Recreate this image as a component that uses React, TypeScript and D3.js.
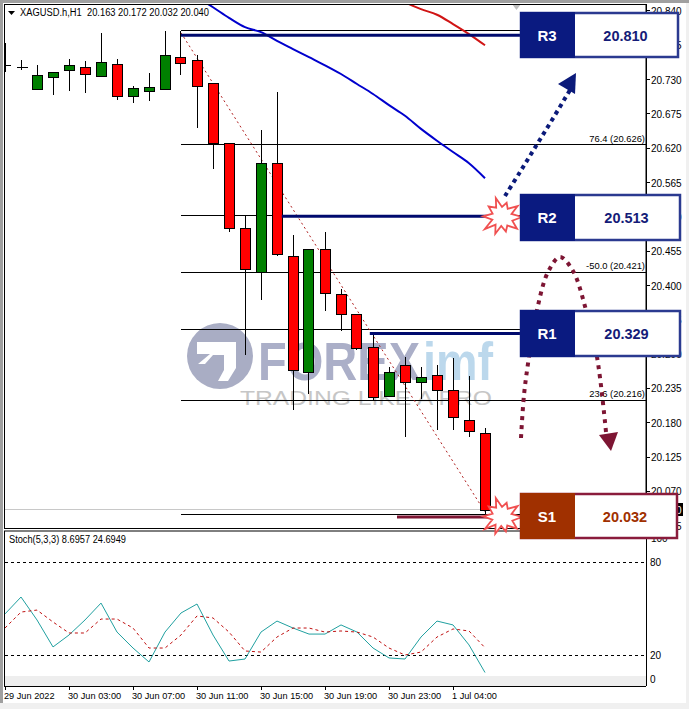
import React from "react";
import * as d3 from "d3";

const opens = [20.753,20.750,20.714,20.733,20.744,20.749,20.736,20.755,20.702,20.712,20.715,20.765,20.761,20.723,20.628,20.491,20.422,20.596,20.447,20.261,20.457,20.386,20.354,20.301,20.221,20.271,20.244,20.255,20.231,20.183,20.163];
const highs = [20.789,20.761,20.753,20.742,20.763,20.760,20.805,20.763,20.720,20.741,20.808,20.808,20.769,20.723,20.628,20.513,20.649,20.710,20.481,20.458,20.486,20.394,20.354,20.321,20.269,20.285,20.269,20.273,20.284,20.255,20.172];
const lows = [20.742,20.745,20.714,20.705,20.712,20.709,20.736,20.697,20.693,20.696,20.715,20.737,20.653,20.587,20.486,20.289,20.377,20.447,20.201,20.226,20.359,20.327,20.297,20.217,20.221,20.157,20.218,20.168,20.168,20.157,20.032];
const closes = [20.753,20.750,20.737,20.741,20.752,20.737,20.758,20.704,20.715,20.718,20.769,20.755,20.720,20.627,20.491,20.425,20.596,20.450,20.265,20.458,20.386,20.354,20.300,20.221,20.260,20.244,20.252,20.231,20.188,20.165,20.040];

const maBlueStart = 12;
const maBlue = [20.862,20.846,20.829,20.814,20.806,20.792,20.779,20.766,20.753,20.739,20.723,20.707,20.689,20.672,20.651,20.632,20.614,20.596,20.572];
const maRedStart = 24;
const maRed = [20.869,20.854,20.843,20.834,20.819,20.803,20.785];

const stochMain = [46.5,57.4,42.6,25.2,32.9,42.6,53.5,34.8,24.5,15.5,34.8,47.1,52.9,32.9,16.1,17.4,34.8,41.9,37.4,33.5,33.5,39.4,34.8,24.5,18.1,17.4,31.6,41.9,39.4,26.5,8.7];
const stochSignal = [37.4,47.7,49,41.3,34.2,34.2,43.2,43.2,37.4,24.5,24.5,32.9,45.2,43.9,34.8,22.6,21.9,31.6,37.4,37.4,34.8,35.5,34.8,31.6,24.5,20,21.9,31.6,36.8,35.5,24.7];

const priceTicks = [20.84,20.785,20.73,20.675,20.62,20.565,20.51,20.455,20.4,20.345,20.29,20.235,20.18,20.125,20.07,20.015];
const timeTicks = [
  { i: 0, label: "29 Jun 2022" }, { i: 4, label: "30 Jun 03:00" }, { i: 8, label: "30 Jun 07:00" },
  { i: 12, label: "30 Jun 11:00" }, { i: 16, label: "30 Jun 15:00" }, { i: 20, label: "30 Jun 19:00" },
  { i: 24, label: "30 Jun 23:00" }, { i: 28, label: "1 Jul 04:00" },
];
const fibLevels = [20.808, 20.626, 20.513, 20.421, 20.329, 20.216, 20.033];
const fibLabels = [
  { v: 20.626, t: "76.4 (20.626)" }, { v: 20.421, t: "-50.0 (20.421)" }, { v: 20.216, t: "23.6 (20.216)" },
];
const srLines = [
  { v: 20.801, from: 11, to: 32.2, c: "#000a6e" }, { v: 20.511, from: 17.3, to: 30.5, c: "#000a6e" },
  { v: 20.323, from: 22.8, to: 32.2, c: "#000a6e" }, { v: 20.029, from: 24.5, to: 33.2, c: "#7d1533" },
];
const boxes = [
  { name: "R3", value: "20.810", top: 13, bottom: 57, right: 678, fill: "#0a1a80", stroke: "#2b3a90", text: "#141c78" },
  { name: "R2", value: "20.513", top: 195, bottom: 240, right: 680, fill: "#0a1a80", stroke: "#2b3a90", text: "#141c78" },
  { name: "R1", value: "20.329", top: 311, bottom: 356, right: 680, fill: "#0a1a80", stroke: "#2b3a90", text: "#141c78" },
  { name: "S1", value: "20.032", top: 494, bottom: 538, right: 677, fill: "#a03000", stroke: "#8a1c3c", text: "#a03000" },
];
const starRadii = [20,11,19,10,15,9,18,10,21,10,19,10,17,11,20,10,15,10,19,10];
const starAngles = [0,20,38,58,75,95,112,130,145,165,182,200,218,238,252,270,288,305,325,342];
const upArrow: [number, number][] = [[505,196],[520,172],[536,146],[552,120],[570,90]];
const upHead = [[576,73],[558,84],[575,94]];
const downCurve: [number, number][] = [[521,438],[524,395],[529,357],[537,310],[548,272],[560,257],[573,271],[586,310],[597,357],[606,432]];
const downHead = [[599,435],[618,432],[611,451]];

const FONT = "'Liberation Sans', Arial, sans-serif";

export default function App() {
  const x = d3.scaleLinear().domain([0, 30]).range([5, 485]);
  const y = d3.scaleLinear().domain([20.626, 20.216]).range([144.5, 400.3]);
  const s = d3.scaleLinear().domain([0, 100]).range([686, 531]);
  const crisp = (v: number) => Math.floor(v) + 0.5;
  const maLine = (start: number) => d3.line<number>().x((_, i) => x(i + start)).y((d) => y(d)).curve(d3.curveMonotoneX);
  const stLine = d3.line<number>().x((_, i) => x(i)).y((d) => s(d));
  const free = d3.line<[number, number]>().curve(d3.curveCatmullRom.alpha(0.5));
  const star = (cx: number, cy: number) =>
    d3.line<number>().x((r, i) => cx + r * Math.cos((starAngles[i] * Math.PI) / 180)).y((r, i) => cy + r * Math.sin((starAngles[i] * Math.PI) / 180))
      .curve(d3.curveLinearClosed)(starRadii) as string;

  return (
    <svg width={689} height={709} viewBox="0 0 689 709" style={{ position: "absolute", left: 0, top: 0, display: "block", fontFamily: FONT }}>
      <rect width={689} height={709} fill="#ffffff" />
      <rect y={703} width={689} height={6} fill="#f0f0f0" />
      <rect x={686} width={3} height={709} fill="#f0f0f0" />
      <rect width={689} height={3} fill="#a0a0a0" />
      <rect width={3} height={703} fill="#a0a0a0" />

      <g>
        <circle cx={220} cy={356} r={33} fill="#a9adc4" />
        <path d="M197 342 L236 342 L236 368 L228 381 L218 381 L224 370 L224 355 L213 355 L205 364 L198 364 L210 354 L197 354 Z" fill="#ffffff" />
        <text x={258} y={380} fontSize={53} fontWeight={700} fill="#abafc8" textLength={162} lengthAdjust="spacingAndGlyphs">FOREX</text>
        <text x={423} y={380} fontSize={53} fontWeight={700} fill="#bcd8ec" textLength={70} lengthAdjust="spacingAndGlyphs">imf</text>
        <text x={240} y={405} fontSize={21} fill="#c6c6c6" textLength={252} lengthAdjust="spacingAndGlyphs">TRADING LIKE A PRO</text>
      </g>

      <line x1={4} x2={485} y1={509.5} y2={509.5} stroke="#c8c8c8" />
      {fibLevels.map((v) => (
        <line key={v} x1={x(11)} x2={646} y1={crisp(y(v))} y2={crisp(y(v))} stroke="#000" />
      ))}
      <line x1={x(11)} y1={y(20.805)} x2={x(30)} y2={y(20.037)} stroke="#b02020" strokeDasharray="2 3" />

      {opens.map((o, i) => {
        const cx = crisp(x(i));
        const top = Math.max(o, closes[i]);
        const bot = Math.min(o, closes[i]);
        const up = closes[i] > o;
        const h = Math.max(0, y(bot) - y(top));
        return (
          <g key={i} shapeRendering="crispEdges">
            <line x1={cx} x2={cx} y1={y(highs[i])} y2={y(lows[i])} stroke="#000" />
            {i === 0 ? (
              <line x1={cx} x2={cx + 5} y1={crisp(y(o))} y2={crisp(y(o))} stroke="#000" />
            ) : h < 1 ? (
              <line x1={cx - 5} x2={cx + 6} y1={crisp(y(o))} y2={crisp(y(o))} stroke="#000" strokeWidth={1.5} />
            ) : (
              <rect x={cx - 5} y={crisp(y(top))} width={10} height={Math.round(h)} fill={up ? "#008000" : "#ff0000"} stroke="#000" />
            )}
          </g>
        );
      })}

      <clipPath id="mainClip"><rect x={4} y={4} width={642} height={524} /></clipPath>
      <g clipPath="url(#mainClip)">
        <path d={maLine(maBlueStart)(maBlue) as string} fill="none" stroke="#0000cd" strokeWidth={2} />
        <path d={maLine(maRedStart)(maRed) as string} fill="none" stroke="#d01414" strokeWidth={2} />
      </g>

      {srLines.map((l) => (
        <line key={l.v} x1={x(l.from)} x2={x(l.to)} y1={y(l.v)} y2={y(l.v)} stroke={l.c} strokeWidth={3} />
      ))}

      <path d="M8 11 L15 11 L11.5 15 Z" fill="#000" />
      <text x={20} y={16} fontSize={10} fill="#000" xmlSpace="preserve" textLength={189} lengthAdjust="spacingAndGlyphs">XAGUSD.h,H1  20.163 20.172 20.032 20.040</text>
      <path d="M512 4 L521 4 L516.5 10 Z" fill="#c0c0c0" />

      {fibLabels.map((f) => (
        <text key={f.v} x={645} y={y(f.v) - 3} textAnchor="end" fontSize={9.4} fill="#000">{f.t}</text>
      ))}

      <rect x={4.5} y={4.5} width={641.5} height={524} fill="none" stroke="#000" />
      <line x1={4} x2={646} y1={531} y2={531} stroke="#000" />
      <line x1={4.5} x2={4.5} y1={531} y2={686} stroke="#000" />
      <rect x={5} y={676} width={641} height={10} fill="#eeeeee" />
      <line x1={4} x2={646} y1={686.5} y2={686.5} stroke="#000" />
      <line x1={646.5} x2={646.5} y1={4} y2={686} stroke="#000" />

      {priceTicks.map((p) => (
        <g key={p}>
          <line x1={646} x2={650} y1={crisp(y(p))} y2={crisp(y(p))} stroke="#000" />
          <text x={651} y={y(p) + 4} fontSize={10} fill="#000">{p.toFixed(3)}</text>
        </g>
      ))}
      <rect x={647} y={503} width={36} height={13} fill="#000" />
      <text x={651} y={y(20.04) + 4} fontSize={10} fill="#fff">{(20.04).toFixed(3)}</text>

      {[20, 80].map((v) => (
        <line key={v} x1={5} x2={646} y1={crisp(s(v))} y2={crisp(s(v))} stroke="#000" strokeDasharray="3 3" />
      ))}
      <path d={stLine(stochMain) as string} fill="none" stroke="#20a0a0" />
      <path d={stLine(stochSignal) as string} fill="none" stroke="#c01010" strokeDasharray="3 3" />
      <text x={9} y={543} fontSize={10} fill="#000" textLength={117} lengthAdjust="spacingAndGlyphs">Stoch(5,3,3) 8.6957 24.6949</text>
      {[{ v: 100, dy: 11 }, { v: 80, dy: 4 }, { v: 20, dy: 4 }, { v: 0, dy: -3 }].map((t) => (
        <text key={t.v} x={t.v === 100 ? 651 : 650} y={s(t.v) + t.dy} fontSize={10} fill="#000">{t.v}</text>
      ))}
      {timeTicks.map((t) => (
        <g key={t.i}>
          <line x1={crisp(x(t.i))} x2={crisp(x(t.i))} y1={686} y2={690} stroke="#000" />
          <text x={x(t.i) - 1} y={699} fontSize={9.2} fill="#000">{t.label}</text>
        </g>
      ))}

      <path d={free(upArrow) as string} fill="none" stroke="#0b1a7a" strokeWidth={4} strokeDasharray="4 4" />
      <polygon points={upHead.map((p) => p.join(",")).join(" ")} fill="#0b1a7a" />
      <path d={free(downCurve) as string} fill="none" stroke="#7d1533" strokeWidth={4} strokeDasharray="4 5" />
      <polygon points={downHead.map((p) => p.join(",")).join(" ")} fill="#7d1533" />

      <path d={star(502, 217)} fill="#fff" stroke="#f05050" strokeWidth={1.8} />
      <path d={star(502, 517)} fill="#fff" stroke="#f05050" strokeWidth={1.8} />

      {boxes.map((b) => (
        <g key={b.name}>
          <rect x={521} y={b.top} width={b.right - 521} height={b.bottom - b.top} fill="#fff" stroke={b.stroke} strokeWidth={2.5} />
          <rect x={520} y={b.top - 1} width={55} height={b.bottom - b.top + 2} fill={b.fill} />
          <text x={547} y={(b.top + b.bottom) / 2 + 5.5} textAnchor="middle" fontSize={15} fontWeight={700} fill="#fff">{b.name}</text>
          <text x={(575 + b.right) / 2 - 1} y={(b.top + b.bottom) / 2 + 5.5} textAnchor="middle" fontSize={14.5} fontWeight={700} fill={b.text}>{b.value}</text>
        </g>
      ))}
    </svg>
  );
}
